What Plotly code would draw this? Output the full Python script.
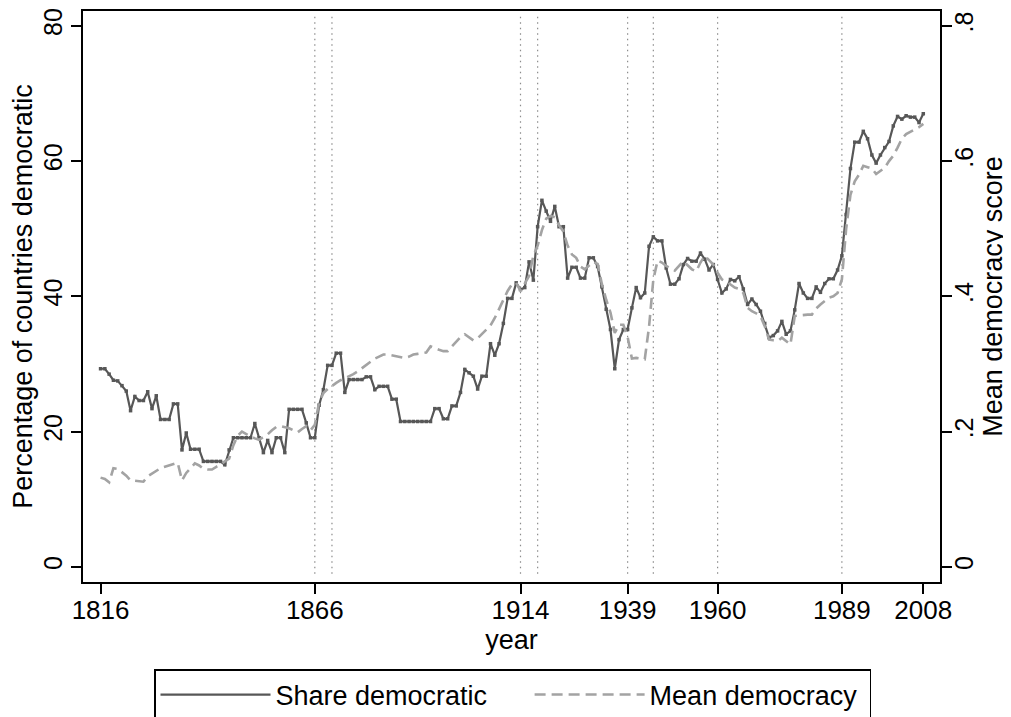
import plotly.graph_objects as go

years = list(range(1816, 2009))

share_democratic = [
    29.3, 29.3, 28.5, 27.6, 27.5, 26.8, 26.0, 23.1, 25.2, 24.6,   # 1816-1825
    24.6, 25.9, 23.4, 25.3, 21.8, 21.8, 21.8, 24.1, 24.1, 17.3,   # 1826-1835
    19.8, 17.4, 17.4, 17.4, 15.6, 15.6, 15.6, 15.6, 15.6, 15.1,   # 1836-1845
    17.3, 19.1, 19.1, 19.1, 19.1, 19.1, 21.2, 19.1, 16.9, 18.7,   # 1846-1855
    16.9, 19.1, 19.1, 16.9, 23.3, 23.3, 23.3, 23.3, 21.3, 19.1,   # 1856-1865
    19.1, 23.9, 26.2, 29.8, 29.8, 31.6, 31.6, 25.8, 27.7, 27.7,   # 1866-1875
    27.7, 27.7, 28.1, 28.1, 26.2, 26.7, 26.7, 26.7, 24.8, 24.8,   # 1876-1885
    21.5, 21.5, 21.5, 21.5, 21.5, 21.5, 21.5, 21.5, 23.4, 23.4,   # 1886-1895
    21.9, 21.9, 23.8, 23.8, 25.8, 29.2, 28.7, 28.2, 26.3, 28.2,   # 1896-1905
    28.2, 33.0, 31.3, 33.0, 36.0, 39.7, 39.7, 42.0, 41.0, 41.3,   # 1906-1915
    45.1, 42.4, 50.3, 54.2, 52.6, 51.1, 53.3, 50.3, 50.3, 42.7,   # 1916-1925
    44.3, 44.3, 42.7, 42.7, 45.7, 45.7, 44.4, 41.4, 38.1, 35.1,   # 1926-1935
    29.3, 33.6, 35.1, 35.1, 38.3, 41.3, 39.8, 40.5, 47.4, 48.8,   # 1936-1945
    48.2, 48.2, 44.2, 41.8, 41.8, 42.6, 44.7, 45.6, 45.2, 45.2,   # 1946-1955
    46.4, 45.5, 43.9, 44.7, 42.5, 40.5, 41.1, 42.5, 42.3, 42.9,   # 1956-1965
    41.1, 38.8, 39.6, 38.8, 37.8, 36.0, 33.9, 34.2, 34.9, 36.3,   # 1966-1975
    34.4, 34.9, 38.0, 41.9, 40.5, 39.7, 39.7, 41.4, 40.6, 41.9,   # 1976-1985
    42.6, 42.6, 43.9, 46.0, 52.1, 58.9, 62.8, 62.8, 64.4, 63.3,   # 1986-1995
    60.9, 59.7, 60.9, 62.0, 62.9, 65.2, 66.6, 66.2, 66.7, 66.5,   # 1996-2005
    66.5, 65.7, 67.0,                                             # 2006-2008
]

mean_democracy = [
    0.132, 0.130, 0.125, 0.146, 0.145, 0.140, 0.135, 0.128, 0.127, 0.127,   # 1816-1825
    0.126, 0.134, 0.138, 0.142, 0.146, 0.148, 0.150, 0.152, 0.154, 0.128,   # 1826-1835
    0.139, 0.146, 0.153, 0.150, 0.145, 0.144, 0.144, 0.148, 0.151, 0.156,   # 1836-1845
    0.160, 0.180, 0.194, 0.200, 0.196, 0.193, 0.190, 0.188, 0.192, 0.196,   # 1846-1855
    0.202, 0.207, 0.208, 0.207, 0.205, 0.202, 0.199, 0.204, 0.208, 0.202,   # 1856-1865
    0.210, 0.243, 0.257, 0.263, 0.268, 0.272, 0.276, 0.279, 0.281, 0.285,   # 1866-1875
    0.289, 0.294, 0.299, 0.304, 0.308, 0.311, 0.314, 0.314, 0.313, 0.311,   # 1876-1885
    0.310, 0.309, 0.311, 0.314, 0.315, 0.316, 0.317, 0.326, 0.323, 0.321,   # 1886-1895
    0.319, 0.319, 0.326, 0.333, 0.340, 0.344, 0.340, 0.335, 0.338, 0.344,   # 1896-1905
    0.350, 0.357, 0.368, 0.382, 0.395, 0.408, 0.418, 0.420, 0.408, 0.418,   # 1906-1915
    0.430, 0.460, 0.475, 0.498, 0.515, 0.519, 0.517, 0.505, 0.496, 0.475,   # 1916-1925
    0.462, 0.457, 0.444, 0.440, 0.446, 0.451, 0.448, 0.418, 0.395, 0.376,   # 1926-1935
    0.346, 0.358, 0.358, 0.340, 0.308, 0.309, 0.308, 0.307, 0.355, 0.425,   # 1936-1945
    0.453, 0.450, 0.445, 0.441, 0.438, 0.445, 0.452, 0.446, 0.440, 0.437,   # 1946-1955
    0.450, 0.460, 0.454, 0.447, 0.435, 0.425, 0.422, 0.418, 0.413, 0.411,   # 1956-1965
    0.405, 0.383, 0.378, 0.375, 0.371, 0.356, 0.336, 0.335, 0.334, 0.339,   # 1966-1975
    0.334, 0.329, 0.371, 0.372, 0.373, 0.373, 0.373, 0.382, 0.388, 0.393,   # 1976-1985
    0.398, 0.400, 0.405, 0.425, 0.500, 0.550, 0.570, 0.580, 0.593, 0.591,   # 1986-1995
    0.589, 0.581, 0.586, 0.590, 0.600, 0.608, 0.620, 0.633, 0.640, 0.643,   # 1996-2005
    0.646, 0.650, 0.655,                                                    # 2006-2008
]

event_years = [1866, 1870, 1914, 1918, 1939, 1945, 1960, 1989]
x_ticks = [1816, 1866, 1914, 1939, 1960, 1989, 2008]
left_ticks = [0, 20, 40, 60, 80]
right_ticks = [0, 0.2, 0.4, 0.6, 0.8]
right_tick_labels = ["0", ".2", ".4", ".6", ".8"]

SHARE_COLOR = "#575757"
MEAN_COLOR = "#a3a3a3"
FONT = "Liberation Sans, Arial, Helvetica, sans-serif"
NB = "\u00a0"

fig = go.Figure()

fig.add_trace(go.Scatter(
    x=years, y=share_democratic, name="Share democratic" + NB * 5,
    mode="lines", line=dict(color=SHARE_COLOR, width=2.2),
    yaxis="y",
))
fig.add_trace(go.Scatter(
    x=years, y=share_democratic, mode="markers", showlegend=False,
    marker=dict(color=SHARE_COLOR, size=3.5, symbol="square"),
    yaxis="y", hoverinfo="skip",
))
fig.add_trace(go.Scatter(
    x=years, y=mean_democracy, name="Mean democracy" + NB,
    mode="lines", line=dict(color=MEAN_COLOR, width=2.6, dash="11px,6px"),
    yaxis="y2",
))

shapes = []
for yr in event_years:
    shapes.append(dict(
        type="line", xref="x", yref="y", x0=yr, x1=yr, y0=-1.0, y1=81.8,
        line=dict(color="#8c8c8c", width=1.2, dash="1.5px,4px"), layer="below",
    ))

axis_common = dict(
    showline=True, linecolor="black", linewidth=1.5,
    ticks="outside", ticklen=10, tickwidth=1.5, tickcolor="black",
    showgrid=False, zeroline=False, ticklabeloverflow="allow",
)
X_TICK_FONT = dict(family=FONT, size=26, color="black")
Y_TICK_FONT = dict(family=FONT, size=25, color="black")
TITLE_FONT = dict(family=FONT, size=27, color="black")

fig.update_layout(
    width=1003, height=709,
    paper_bgcolor="white", plot_bgcolor="white",
    margin=dict(l=75, r=71, t=3, b=135, autoexpand=False),
    font=dict(family=FONT, size=26, color="black"),
    shapes=shapes,
    xaxis=dict(
        range=[1811.9, 2011.9], tickvals=x_ticks, mirror=True,
        title=dict(text="year", font=TITLE_FONT, standoff=0),
        automargin=False, ticklabelstandoff=-6, tickfont=X_TICK_FONT, **axis_common,
    ),
    yaxis=dict(
        range=[-2.23, 82.19], tickvals=left_ticks, tickangle=-90,
        title=dict(text="Percentage of countries democratic", font=TITLE_FONT, standoff=4),
        automargin=False, ticklabelstandoff=-1, tickfont=Y_TICK_FONT, **axis_common,
    ),
    yaxis2=dict(
        range=[-0.0223, 0.8219], tickvals=right_ticks, ticktext=right_tick_labels,
        tickangle=-90, overlaying="y", side="right",
        title=dict(text="Mean democracy score", font=TITLE_FONT, standoff=0),
        automargin=False, ticklabelstandoff=-9, tickfont=Y_TICK_FONT, **axis_common,
    ),
    legend=dict(
        orientation="h", x=(154 - 83) / 857, y=-(669 - 582) / 571, xanchor="left", yanchor="top",
        bordercolor="black", borderwidth=1.5, bgcolor="white",
        font=dict(family=FONT, size=27, color="black"),
        itemwidth=110, traceorder="normal",
    ),
)

fig.write_html("out.html")
